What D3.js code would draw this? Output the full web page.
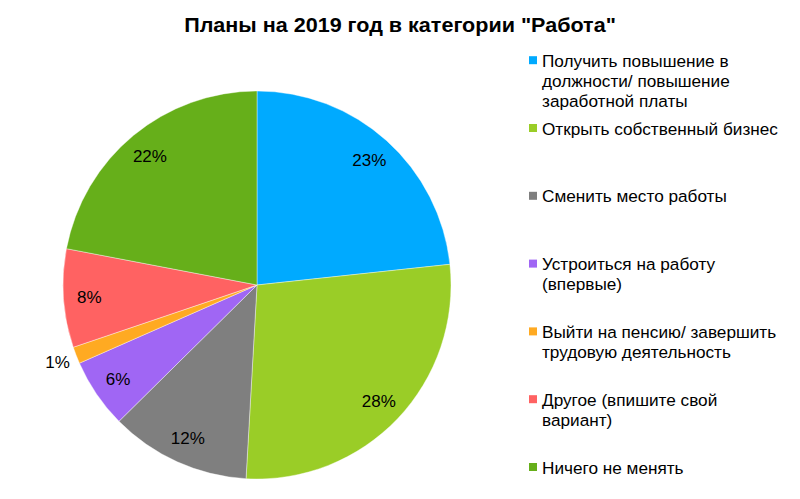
<!DOCTYPE html>
<html><head><meta charset="utf-8">
<script src="https://cdn.jsdelivr.net/npm/d3@7/dist/d3.min.js"></script>
<style>html,body{margin:0;padding:0;background:#fff;}svg{display:block;font-family:"Liberation Sans",Arial,sans-serif;}</style>
</head><body>
<svg id="chart" width="800" height="499"></svg>
<script>
const title = 'Планы на 2019 год в категории "Работа"';
const categories = [
  "Получить повышение в\nдолжности/ повышение\nзаработной платы",
  "Открыть собственный бизнес",
  "Сменить место работы",
  "Устроиться на работу\n(впервые)",
  "Выйти на пенсию/ завершить\nтрудовую деятельность",
  "Другое (впишите свой\nвариант)",
  "Ничего не менять"
];
const values = [23.3, 27.6, 11.7, 5.8, 1.4, 8.2, 22.0];
const labels = ["23%", "28%", "12%", "6%", "1%", "8%", "22%"];
const colors = ["#00AAFF", "#9ACD27", "#7F7F7F", "#A066F4", "#FFAA22", "#FF6262", "#66AF1A"];

const svg = d3.select("#chart");
const cx = 257, cy = 285, R = 194;

const tt = svg.append("text").attr("x", 0).attr("y", 0).attr("text-anchor", "middle")
  .attr("font-size", 20).attr("font-weight", "bold").attr("fill", "#000").text(title);
const tw = tt.node().getComputedTextLength();
const sx = 432 / tw;
tt.attr("transform", `translate(400,32) scale(${sx},1)`);

const pie = d3.pie().sort(null).value(d => d)(values);
const arc = d3.arc().innerRadius(0).outerRadius(R);
const g = svg.append("g").attr("transform", `translate(${cx},${cy})`);
g.selectAll("path").data(pie).join("path")
  .attr("d", arc).attr("fill", (d, i) => colors[i])
  .attr("stroke", "#fff").attr("stroke-width", 0.4);

const inner = d3.arc().innerRadius(168).outerRadius(168);
const outer = d3.arc().innerRadius(214).outerRadius(214);
g.selectAll("text.lbl").data(pie).join("text").attr("class", "lbl")
  .attr("transform", (d, i) => `translate(${(values[i] < 3 ? outer : inner).centroid(d)})`)
  .attr("text-anchor", "middle").attr("dy", "0.35em")
  .attr("font-size", 17).attr("fill", "#000")
  .text((d, i) => labels[i]);

const ly = d3.scaleLinear().domain([0, categories.length - 1]).range([60.7, 467.5]);
const leg = svg.append("g");
categories.forEach((c, i) => {
  const y = ly(i);
  leg.append("rect").attr("x", 529).attr("y", y - 4.5).attr("width", 8).attr("height", 8).attr("fill", colors[i]);
  const t = leg.append("text").attr("x", 542).attr("y", y)
    .attr("font-size", 17.2).attr("fill", "#000");
  c.split("\n").forEach((line, j) => {
    t.append("tspan").attr("x", 542).attr("dy", j === 0 ? "0.35em" : 20).text(line);
  });
});
</script>
</body></html>
